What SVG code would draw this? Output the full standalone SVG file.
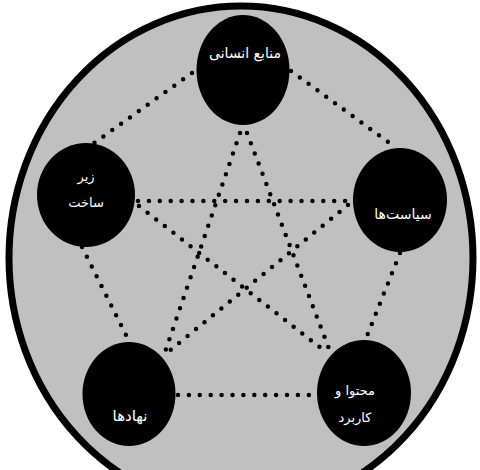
<svg xmlns="http://www.w3.org/2000/svg" width="480" height="470" viewBox="0 0 480 470">
<style>
.bg{fill:#c0c0c0;stroke:#000;stroke-width:7}
.node{fill:#000}
.lbl{fill:#fff;font-family:"DejaVu Sans",sans-serif;font-size:14px;text-anchor:middle}
.sm{font-size:13px}
.con line{stroke:#000;stroke-width:4.5;stroke-linecap:round;stroke-dasharray:0 10.9;fill:none}
</style>
<rect width="480" height="470" fill="#fff"/>
<ellipse class="bg" cx="241" cy="258" rx="232" ry="252"/>
<g id="connectors" class="con">
<line x1="192" y1="73" x2="90" y2="146"/>
<line x1="291" y1="71" x2="395" y2="147"/>
<line x1="82" y1="247" x2="126" y2="335"/>
<line x1="400" y1="253" x2="365" y2="341"/>
<line x1="178" y1="395" x2="317" y2="395"/>
<line x1="138" y1="201" x2="352" y2="201"/>
<line x1="139" y1="206" x2="326" y2="352"/>
<line x1="240" y1="133" x2="164" y2="355"/>
<line x1="247" y1="133" x2="331" y2="354"/>
<line x1="348" y1="205" x2="168" y2="352"/>
</g>
<g id="n-manabe">
<ellipse class="node" cx="243" cy="70" rx="46.5" ry="55"/>
<text class="lbl" x="245" y="58">منابع انسانی</text>
</g>
<g id="n-zirsakht">
<ellipse class="node" cx="86" cy="195" rx="49" ry="52"/>
<text class="lbl sm" x="86" y="181">زیر</text>
<text class="lbl sm" x="86" y="207">ساخت</text>
</g>
<g id="n-siasatha">
<ellipse class="node" cx="400" cy="200" rx="47" ry="52"/>
<text class="lbl" x="403" y="219">سیاست‌ها</text>
</g>
<g id="n-nahadha">
<ellipse class="node" cx="129" cy="394" rx="46.5" ry="52"/>
<text class="lbl" x="130" y="421" style="font-size:15px">نهادها</text>
</g>
<g id="n-mohtava">
<ellipse class="node" cx="364" cy="393" rx="47" ry="53"/>
<text class="lbl sm" x="355" y="395">محتوا و</text>
<text class="lbl sm" x="355" y="422">کاربرد</text>
</g>
</svg>
